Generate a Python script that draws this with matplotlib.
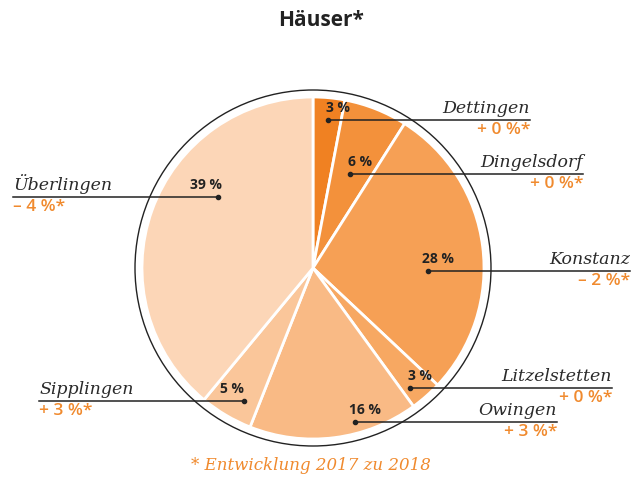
import matplotlib.pyplot as plt
from matplotlib.patches import Circle

# data
orte = ['Dettingen', 'Dingelsdorf', 'Konstanz', 'Litzelstetten', 'Owingen', 'Sipplingen', 'Überlingen']
anteile = [3, 6, 28, 3, 16, 5, 39]
aenderung = ['+ 0 %*', '+ 0 %*', '– 2 %*', '+ 0 %*', '+ 3 %*', '+ 3 %*', '– 4 %*']
farben = ['#F08122', '#F3913B', '#F6A055', '#F7A862', '#F9BA85', '#FAC69A', '#FCD6B7']

# layout (pixel coords, y from top): dot position, end of leader line
dots = [(328, 120), (350, 174), (428, 271), (410, 388), (355, 422), (244, 401), (218, 197)]
line_end = [530, 583, 630, 612, 557, 39, 13]

H = 479
fig = plt.figure(figsize=(6.42, 4.79), dpi=100)
ax = fig.add_axes([0, 0, 1, 1])

cx, cy = 313, H - 268
ax.pie(anteile, colors=farben, startangle=90, counterclock=False,
       center=(cx, cy), radius=171, frame=True,
       wedgeprops=dict(edgecolor='white', linewidth=2))
ax.set_xlim(0, 642)
ax.set_ylim(0, H)
ax.axis('off')
ax.add_patch(Circle((cx, cy), 178, fill=False, edgecolor='#222222', linewidth=1))

name_font = dict(family='DejaVu Serif', style='italic', fontsize=12.5, color='#2a2a2a')
chg_font = dict(family='Open Sans', fontweight='semibold', fontsize=12.5, color='#F08A2E')
pct_font = dict(family='Open Sans', fontweight='bold', fontsize=10, color='#222222')

for ort, pct, chg, (dx, dy), xe in zip(orte, anteile, aenderung, dots, line_end):
    y = H - dy
    ax.plot([dx, xe], [y, y], color='#222222', linewidth=1.1)
    ax.plot(dx, y, 'o', color='#222222', markersize=3)
    if xe > dx:
        ax.text(dx + 10, y + 5, f'{pct} %', ha='center', va='bottom', **pct_font)
        ax.text(xe, y + 3, ort, ha='right', va='bottom', **name_font)
        ax.text(xe, y - 2, chg, ha='right', va='top', **chg_font)
    else:
        ax.text(dx - 12, y + 5, f'{pct} %', ha='center', va='bottom', **pct_font)
        ax.text(xe, y + 3, ort, ha='left', va='bottom', **name_font)
        ax.text(xe, y - 2, chg, ha='left', va='top', **chg_font)

ax.text(321, H - 20, 'Häuser*', ha='center', va='center', family='Open Sans',
        fontsize=15, fontweight='bold', color='#222222')
ax.text(311, H - 466, '* Entwicklung 2017 zu 2018', ha='center', va='center',
        family='DejaVu Serif', style='italic', fontsize=12, color='#F08A2E')

fig.savefig('out.png', dpi=100)
